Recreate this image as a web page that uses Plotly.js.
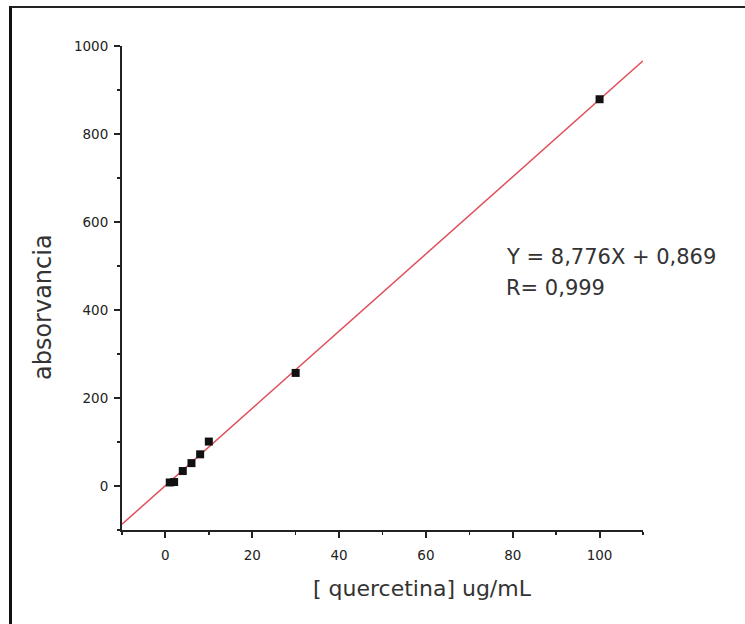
<!DOCTYPE html>
<html>
<head>
<meta charset="utf-8">
<script src="https://cdn.plot.ly/plotly-3.0.1.min.js"></script>
<style>
  html, body { margin: 0; padding: 0; background: #fff; }
  #wrap { position: relative; width: 745px; height: 624px; overflow: hidden; }
  #chart { position: absolute; left: 0; top: 0; width: 745px; height: 624px; }
  #frame { position: absolute; left: 9px; top: 6px; width: 740px; height: 630px;
           border-left: 3px solid #111; border-top: 2px solid #222; pointer-events: none; }
</style>
</head>
<body>
<div id="wrap">
  <div id="chart"></div>
  <div id="frame"></div>
</div>
<script>
// Measured points
const concentration = [1, 2, 4, 6, 8, 10, 30, 100];
const absorbance    = [8, 9, 34, 52, 72, 101, 257, 879];

// Fitted line Y = 8,776X + 0,869 across the axis range
const fitX = [-10, 110];
const fitY = [-86.9, 966.2];

const equationText = "Y = 8,776X + 0,869";
const rText = "R= 0,999";
const xTitle = "[ quercetina] ug/mL";
const yTitle = "absorvancia";
const xTicks = [0, 20, 40, 60, 80, 100];
const yTicks = [0, 200, 400, 600, 800, 1000];

const tickFont = {family: "DejaVu Sans, sans-serif", size: 13.5, color: "#222"};
const eqFont = {family: "DejaVu Sans, sans-serif", size: 21, color: "#333"};
const xTitleFont = {family: "DejaVu Sans, sans-serif", size: 22, color: "#333"};
const yTitleFont = {family: "DejaVu Sans, sans-serif", size: 24, color: "#333"};

const traces = [
  {
    x: fitX, y: fitY, type: "scatter", mode: "lines",
    line: {color: "#e0505a", width: 1.5}, hoverinfo: "skip"
  },
  {
    x: concentration, y: absorbance, type: "scatter", mode: "markers",
    marker: {symbol: "square", size: 8, color: "#111"}
  }
];

const layout = {
  width: 745, height: 624,
  margin: {l: 122, r: 102, t: 46, b: 94},
  paper_bgcolor: "#fff", plot_bgcolor: "#fff",
  showlegend: false,
  xaxis: {
    range: [-10, 110], tickvals: xTicks, ticktext: xTicks.map(String),
    ticks: "outside", ticklen: 6, tickwidth: 2, tickcolor: "#222",
    minor: {dtick: 10, tick0: 0, ticks: "outside", ticklen: 3, tickwidth: 1.5, tickcolor: "#222"},
    showline: true, linecolor: "#222", linewidth: 2,
    showgrid: false, zeroline: false,
    tickfont: tickFont, ticklabelstandoff: 6
  },
  yaxis: {
    range: [-100, 1000], tickvals: yTicks, ticktext: yTicks.map(String),
    ticks: "outside", ticklen: 6, tickwidth: 2, tickcolor: "#222",
    minor: {dtick: 100, tick0: 0, ticks: "outside", ticklen: 3, tickwidth: 1.5, tickcolor: "#222"},
    showline: true, linecolor: "#222", linewidth: 2,
    showgrid: false, zeroline: false,
    tickfont: tickFont, ticklabelstandoff: 3
  },
  annotations: [
    {x: 77.9, y: 521, xref: "x", yref: "y", xanchor: "left", yanchor: "middle",
     text: equationText, showarrow: false, font: eqFont},
    {x: 77.9, y: 451, xref: "x", yref: "y", xanchor: "left", yanchor: "middle",
     text: rText, showarrow: false, font: eqFont},
    {x: 0.5777, y: -0.12, xref: "paper", yref: "paper", xanchor: "center", yanchor: "middle",
     text: xTitle, showarrow: false, font: xTitleFont},
    {x: -0.1516, y: 0.4607, xref: "paper", yref: "paper", xanchor: "center", yanchor: "middle",
     text: yTitle, showarrow: false, font: yTitleFont, textangle: -90}
  ]
};

Plotly.newPlot("chart", traces, layout, {displayModeBar: false, staticPlot: true});
</script>
</body>
</html>
